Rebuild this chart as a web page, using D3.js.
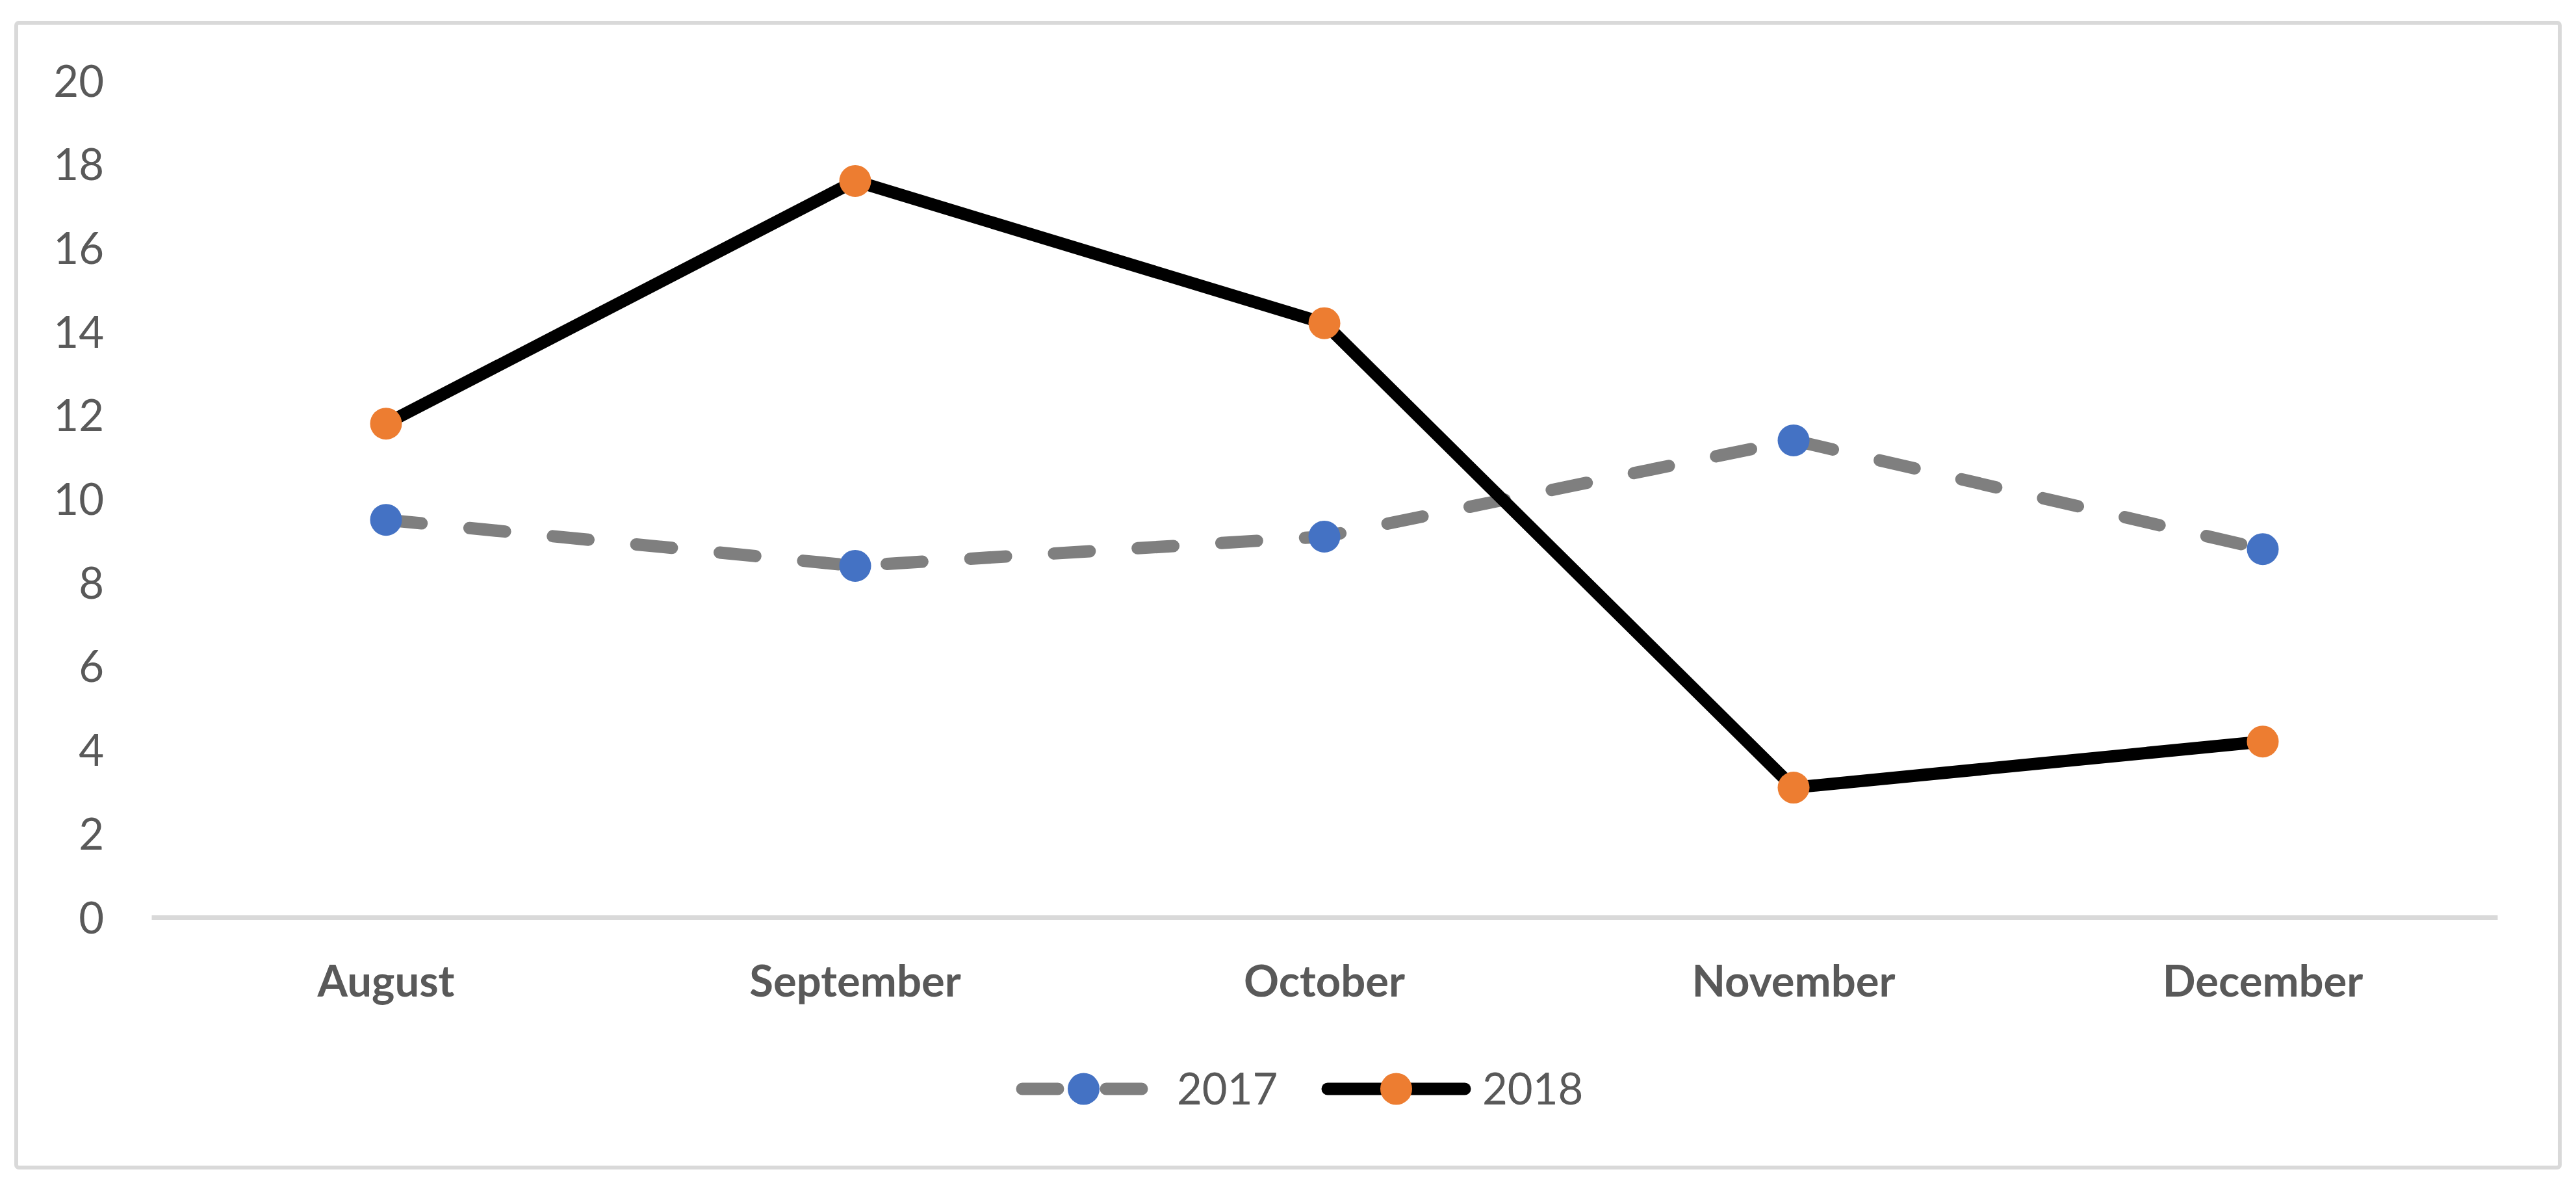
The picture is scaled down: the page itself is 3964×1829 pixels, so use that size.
<!DOCTYPE html>
<html>
<head>
<meta charset="utf-8">
<script src="https://cdn.jsdelivr.net/npm/d3@7"></script>
<style>
  html, body { margin: 0; padding: 0; background: #ffffff; }
  svg { display: block; }
  text { font-family: Lato, "Open Sans", sans-serif; fill: #595959; }
</style>
</head>
<body>
<svg id="chart" width="3964" height="1829"></svg>
<script>
// ---- data ----
const categories = ["August", "September", "October", "November", "December"];
const series2017 = [9.5, 8.4, 9.1, 11.4, 8.8];
const series2018 = [11.8, 17.6, 14.2, 3.1, 4.2];
const seriesNames = ["2017", "2018"];
const yTicks = [0, 2, 4, 6, 8, 10, 12, 14, 16, 18, 20];

// ---- layout ----
const W = 3964, H = 1829;
const svg = d3.select("#chart");
svg.append("rect").attr("x", 0).attr("y", 0).attr("width", W).attr("height", H).attr("fill", "#ffffff");

// outer chart border
svg.append("rect")
  .attr("x", 25).attr("y", 35).attr("width", 3914).attr("height", 1761)
  .attr("rx", 4).attr("fill", "none").attr("stroke", "#d9d9d9").attr("stroke-width", 6);

const plotLeft = 233, plotRight = 3843, yZero = 1411, yTop = 124;
const FS = 67;

const x = d3.scaleBand().domain(categories).range([plotLeft, plotRight]).padding(0);
const y = d3.scaleLinear().domain([0, 20]).range([yZero, yTop]);
const cx = c => x(c) + x.bandwidth() / 2;

// y axis labels
const yAxis = svg.append("g").attr("transform", `translate(${plotLeft},0)`)
  .call(d3.axisLeft(y).tickValues(yTicks).tickSize(0).tickPadding(plotLeft - 160).tickFormat(d3.format("d")));
yAxis.select(".domain").remove();
yAxis.selectAll("text")
  .attr("dy", "0.358em")
  .style("font-family", "Lato, 'Open Sans', sans-serif")
  .style("font-size", FS + "px")
  .style("fill", "#595959");

// x axis
const xAxis = svg.append("g").attr("transform", `translate(0,${yZero})`)
  .call(d3.axisBottom(x).tickSize(0).tickSizeOuter(0));
xAxis.select(".domain").attr("stroke", "#d9d9d9").attr("stroke-width", 7);
xAxis.selectAll("text")
  .attr("y", 122).attr("dy", 0)
  .style("font-family", "Lato, 'Open Sans', sans-serif")
  .style("font-size", FS + "px")
  .style("font-weight", "bold")
  .style("fill", "#595959");

// lines
const line = d3.line().x((d, i) => cx(categories[i])).y(d => y(d));

svg.append("path").datum(series2017)
  .attr("d", line).attr("fill", "none")
  .attr("stroke", "#7f7f7f").attr("stroke-width", 19)
  .attr("stroke-dasharray", "55,74")
  .attr("stroke-linecap", "round").attr("stroke-linejoin", "round");

svg.append("g").selectAll("circle").data(series2017).join("circle")
  .attr("cx", (d, i) => cx(categories[i])).attr("cy", d => y(d))
  .attr("r", 24.5).attr("fill", "#4472c4");

svg.append("path").datum(series2018)
  .attr("d", line).attr("fill", "none")
  .attr("stroke", "#000000").attr("stroke-width", 19)
  .attr("stroke-linecap", "round").attr("stroke-linejoin", "round");

svg.append("g").selectAll("circle").data(series2018).join("circle")
  .attr("cx", (d, i) => cx(categories[i])).attr("cy", d => y(d))
  .attr("r", 24.5).attr("fill", "#ed7d31");

// legend
const legY = 1675;
const legendItems = [
  { name: seriesNames[0], x0: 1573, x1: 1762, stroke: "#7f7f7f", dash: "55,74", fill: "#4472c4", tx: 1811 },
  { name: seriesNames[1], x0: 2043, x1: 2254, stroke: "#000000", dash: null, fill: "#ed7d31", tx: 2281 }
];
const lg = svg.append("g");
legendItems.forEach(it => {
  const p = lg.append("line")
    .attr("x1", it.x0).attr("x2", it.x1).attr("y1", legY).attr("y2", legY)
    .attr("stroke", it.stroke).attr("stroke-width", 19).attr("stroke-linecap", "round");
  if (it.dash) p.attr("stroke-dasharray", it.dash);
  lg.append("circle").attr("cx", (it.x0 + it.x1) / 2).attr("cy", legY).attr("r", 24.5).attr("fill", it.fill);
  lg.append("text").attr("x", it.tx).attr("y", legY + 24)
    .style("font-size", FS + "px").text(it.name);
});
</script>
</body>
</html>
